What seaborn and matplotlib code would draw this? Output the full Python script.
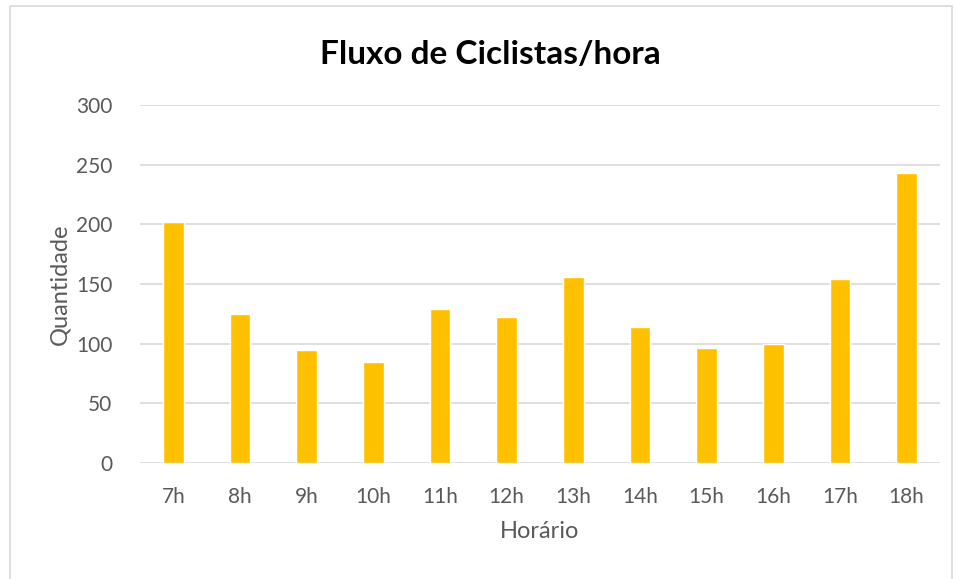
import matplotlib
matplotlib.use("Agg")
import matplotlib.pyplot as plt
import seaborn as sns
import pandas as pd
from matplotlib.patches import Rectangle

# data
horas = ["7h", "8h", "9h", "10h", "11h", "12h", "13h", "14h", "15h", "16h", "17h", "18h"]
quantidade = [202, 125, 95, 85, 129, 122, 156, 114, 96, 100, 154, 243]
yticks = [0, 50, 100, 150, 200, 250, 300]

df = pd.DataFrame({"Horário": horas, "Quantidade": quantidade})

sns.set_style("white")
plt.rcParams["font.family"] = ["Lato", "DejaVu Sans"]

fig = plt.figure(figsize=(9.56, 5.79), dpi=100)
ax = fig.add_axes([0.1464, 0.2003, 0.8368, 0.6184])

sns.barplot(data=df, x="Horário", y="Quantidade", color="#FFC000",
            width=0.31, saturation=1, ax=ax, zorder=3)

ax.set_ylim(0, 300)
ax.set_yticks(yticks)
ax.set_xlim(-0.5, len(horas) - 0.5)
ax.yaxis.grid(True, color="#D9D9D9", linewidth=1.2, zorder=0)
ax.set_axisbelow(True)
for s in ax.spines.values():
    s.set_visible(False)

txt = "#595959"
ax.tick_params(axis="both", length=0, labelsize=15, colors=txt)
ax.tick_params(axis="x", pad=17)
ax.tick_params(axis="y", pad=20)
ax.set_xlabel("Horário", fontsize=17, color=txt, labelpad=10)
ax.set_ylabel("Quantidade", fontsize=17, color=txt, labelpad=4)

fig.text(0.513, 0.906, "Fluxo de Ciclistas/hora", ha="center", va="center",
         fontsize=24, fontweight="bold", color="black")

# thin frame round the chart area
fig.patches.append(Rectangle((0.0105, -0.01), 0.985, 1.0, transform=fig.transFigure,
                             fill=False, edgecolor="#D9D9D9", linewidth=1.2))

fig.savefig("out.png", dpi=100)
